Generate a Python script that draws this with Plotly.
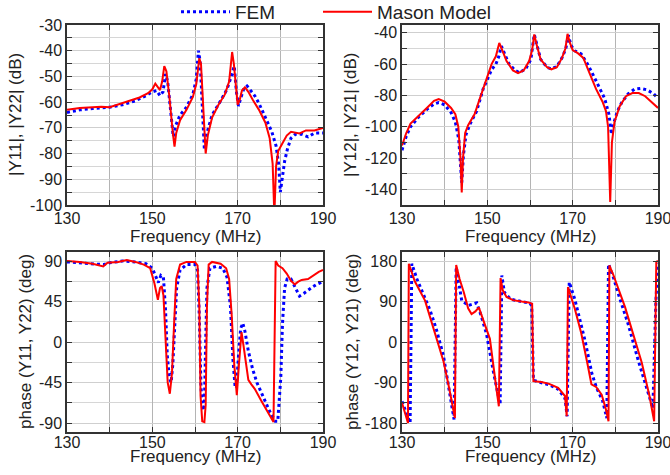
import plotly.graph_objects as go

# ---------------- data ----------------
# |Y11|,|Y22| (dB)
f_mag11_fem = [130, 133, 136, 140, 143, 146, 148.5, 150, 151, 151.8, 152.5, 153.1, 153.6, 154.2, 154.9, 155.5, 156.5, 158,
               159.5, 160.3, 160.8, 161.2, 161.7, 162.2, 162.8, 164, 166, 167.5, 168.5, 169.2, 169.7, 170.2, 170.8, 171.5,
               172.2, 173, 174, 175, 176, 177, 178, 179, 179.6, 180, 180.4, 181, 181.7, 182.5, 183.5, 185, 186.5, 188, 190]
mag11_fem = [-64, -63, -62.5, -62, -61, -59.5, -57.5, -56, -55.5, -57.5, -56, -49, -52, -62, -73.4, -69, -65, -62,
             -57, -51, -40, -44, -62, -78.6, -72, -65, -59.5, -55, -50, -46, -56, -61.5, -58, -54.5,
             -53.7, -55.5, -57.5, -60.5, -64, -67.5, -71.5, -77, -84, -95, -90, -83, -78, -74, -72.5, -72.5, -73.5, -72, -72]

f_mag11_mason = [130, 133, 136, 138, 140, 142, 145, 147, 149, 150, 150.7, 151.3, 151.8, 152.3, 152.8, 153.3, 154, 154.8,
                 155.2, 155.6, 156.5, 158, 159.5, 160.3, 160.7, 161.0, 161.4, 161.8, 162.3, 162.5, 163, 164, 165.5, 167,
                 168, 168.4, 168.7, 169.1, 169.6, 170.0, 170.5, 171, 171.7, 172.5, 173.5, 175, 176.5, 177.5, 178.2, 178.6,
                 179.0, 179.5, 180.5, 181.5, 182.5, 183.5, 184.5, 186, 188, 190]
mag11_mason = [-63, -62.3, -62, -61.8, -62, -61, -59.5, -58.2, -56.5, -55, -52.8, -54, -55.3, -52, -46, -48, -58, -72,
               -77.3, -72, -67, -63, -58, -53, -47, -43, -45, -60, -76, -80, -73, -66, -61, -57,
               -52, -46, -40.5, -45, -54, -61, -59, -55.5, -54.2, -56, -59, -63, -68, -74, -84, -104,
               -85, -79, -76, -73, -71.5, -71.8, -72.2, -71, -71, -70]

# |Y12|,|Y21| (dB)
f_mag12_fem = [130, 131, 132, 134, 136, 137.5, 138.6, 140, 141.5, 142.5, 143.3, 143.8, 144.0, 144.4, 145, 146, 147.5, 149,
               150, 151, 152, 152.7, 153.3, 154, 155, 156.5, 157.5, 159, 160.2, 161, 161.6, 162.5, 164, 165, 166.3,
               167.5, 168.4, 169, 169.6, 170.5, 172, 173.5, 175, 176.5, 177.5, 178.5, 179.1, 179.6, 180.5, 181.5, 183,
               184.5, 186, 187.5, 189, 190]
mag12_fem = [-115, -106, -100, -93.5, -88.5, -85.5, -84.5, -86, -91, -97, -108, -125, -135.7, -118, -105, -98, -90, -76,
             -70, -63.5, -60, -55, -48.5, -53, -59.5, -64, -65.5, -63, -57, -41, -47, -57, -62, -63, -61.5,
             -56, -50, -41.5, -48, -51.5, -53.5, -60, -68, -76, -82, -92, -104.9, -98, -90, -84.5, -79,
             -76, -75.5, -76.5, -79, -82]

f_mag12_mason = [130, 131, 132, 134, 136, 137.5, 138.6, 140, 141.5, 142.5, 143.2, 143.7, 144.0, 144.3, 144.8, 145.5, 147,
                 148.5, 150, 151, 152, 152.8, 153.5, 154.5, 156, 157.2, 158.5, 159.8, 160.5, 161.0, 161.5, 162.5, 164,
                 165, 166.3, 167.5, 168.3, 168.8, 169.3, 170, 171.2, 172.5, 174, 175.5, 177, 177.8, 178.3, 178.8, 179.2,
                 179.8, 181, 182.5, 184, 185.5, 187, 188.5, 190]
mag12_mason = [-112, -104, -98, -93, -87.5, -83.5, -82.3, -84, -88, -92, -100, -120, -142, -120, -104, -99, -92,
               -80, -68, -60, -55, -46.5, -51, -58, -64, -65.8, -64, -58, -51, -41, -47, -57, -62,
               -63.3, -62, -56, -50, -40.6, -46, -51, -53, -56, -66, -76, -84, -90, -100, -148, -110,
               -97, -87, -80.5, -78.5, -78.5, -80.5, -84, -88]

# phase(Y11,Y22) (deg)
f_ph11_fem = [130, 133, 136, 138.5, 140, 143, 146, 148.5, 150, 150.8, 151.4, 152, 152.6, 153.1, 153.5, 154, 154.4, 154.8,
              155.2, 155.7, 156.5, 158, 160, 160.6, 161.0, 161.4, 161.8, 162.2, 162.5, 162.8, 163.5, 165, 166.5, 167.5,
              168.3, 168.9, 169.4, 169.7, 170.2, 170.7, 171.2, 171.7, 172.5, 173.5, 174.5, 176, 177.5, 178.8, 179.4,
              180.1, 180.5, 181, 181.6, 182.5, 183.5, 184.5, 185.5, 186.5, 187.5, 188.5, 190]
ph11_fem = [89, 88, 87, 86, 88, 90, 89, 87, 82, 72, 66, 74, 72, 35, -15, -40, -45, -25,
            20, 60, 80, 86, 86, 80, 30, -50, -76, -70, 0, 60, 82, 84, 82, 72,
            40, -20, -50, -51, -15, 15, 21, 12, -10, -30, -45, -62, -77, -88, -88,
            -40, 20, 60, 70, 70, 60, 51, 54, 58, 61, 64, 67]

f_ph11_mason = [130, 133, 136, 138.5, 139.5, 142, 144, 146, 148, 149.5, 150.5, 151.3, 151.8, 152.2, 152.6, 153.1, 153.6,
                154.1, 154.6, 155.1, 155.6, 156.5, 158, 160, 160.6, 161.0, 161.3, 161.7, 162.2, 162.5, 162.8, 163.2,
                164, 166, 167.3, 168, 168.6, 169.2, 169.8, 170.3, 170.9, 171.4, 171.9, 172.5, 173.2, 174, 175.5, 177,
                178.4, 178.9, 179.5, 180.5, 181.5, 182.5, 183.4, 184.2, 185, 186.5, 187.5, 189, 190]
ph11_mason = [90, 89, 87, 84, 88, 89, 91, 89, 86, 82, 65, 47, 60, 62, 52, 10, -45,
              -57.5, -35, 20, 70, 86, 89, 89, 85, 40, -60, -88, -89, -70, 40, 86,
              89, 87, 82, 70, 30, -25, -59, -25, 11, -5, -25, -42, -47, -52, -65, -78,
              -89, 90, 85, 82, 76, 68, 64, 67, 69, 70, 73, 78, 80]

# phase(Y12,Y21) (deg)
f_ph12_fem = [130, 131, 131.9, 132.3, 133.5, 136.6, 138, 139.7, 141, 142.2, 142.7, 143.3, 144, 144.6, 145.5, 146.5,
              147.5, 148.5, 149.8, 151.5, 153, 153.4, 154, 155.5, 158, 160, 160.4, 160.8, 162.5, 164.5, 166.6, 168.2,
              168.7, 169.2, 170.5, 172.9, 174.5, 175.6, 177, 178, 178.4, 179.5, 180.7, 183, 185.4, 187.5, 188.8,
              189.5, 190]
ph12_fem = [-132, -160, -180, 174, 140, 70, 30, -30, -100, -172, 167, 130, 92, 88, 81, 84,
            87, 60, 18, -70, -139, 148, 110, 95, 90, 86, 80, -85, -90, -95, -105, -125,
            -165, 133, 95, 3, -70, -102, -130, -169, 173, 145, 107, 40, -42, -110, -147,
            90, 175]

f_ph12_mason = [130, 131.4, 131.6, 133, 135.4, 137.5, 139.7, 141, 142.4, 142.7, 143.5, 144.5, 145.5, 146.3, 147.2, 148,
                149, 150.6, 151.8, 152.7, 153.1, 153.6, 154.5, 156, 158, 159.6, 160.5, 160.8, 162.7, 164.5, 166.6, 168.2,
                168.6, 168.9, 170.5, 172, 173.5, 174.4, 175.5, 176.8, 177.8, 178.4, 178.6, 179.5, 182.3, 184, 186.2,
                188, 189.1, 189.6, 190]
ph12_mason = [-135, -180, 174, 135, 92, 25, -42, -100, -169, 171, 140, 110, 75, 62, 68, 77,
              50, 7, -80, -143, 142, 115, 100, 93, 90, 88, 85, -87, -89, -93, -102, -120,
              -165, 122, 74, 20, -50, -94, -100, -117, -150, -176, 170, 150, 77, 25, -46,
              -120, -176, 178, 180]

# tick labels
freq_ticks = [130, 150, 170, 190]
mag11_ticks = [-30, -40, -50, -60, -70, -80, -90, -100]
mag12_ticks = [-40, -60, -80, -100, -120, -140]
ph11_ticks = [90, 45, 0, -45, -90]
ph12_ticks = [180, 90, 0, -90, -180]

# ---------------- figure ----------------
W, H = 670, 475
FONT = "Liberation Sans, Arial, sans-serif"
fig = go.Figure()

fem_line = dict(color="#0000ff", width=3, dash="dot")
mason_line = dict(color="#ff0000", width=2)

panels = [
    ("x", "y", f_mag11_fem, mag11_fem, f_mag11_mason, mag11_mason),
    ("x2", "y2", f_mag12_fem, mag12_fem, f_mag12_mason, mag12_mason),
    ("x3", "y3", f_ph11_fem, ph11_fem, f_ph11_mason, ph11_mason),
    ("x4", "y4", f_ph12_fem, ph12_fem, f_ph12_mason, ph12_mason),
]
for i, (xa, ya, fx, fy, mx, my) in enumerate(panels):
    fig.add_trace(go.Scatter(x=fx, y=fy, mode="lines", line=fem_line, name="FEM",
                             showlegend=(i == 0), legend="legend", xaxis=xa, yaxis=ya))
for i, (xa, ya, fx, fy, mx, my) in enumerate(panels):
    fig.add_trace(go.Scatter(x=mx, y=my, mode="lines", line=mason_line, name="Mason Model",
                             showlegend=(i == 0), legend="legend2", xaxis=xa, yaxis=ya))

def pxx(p):
    return p / W

def pxy(p):
    return 1 - p / H

frame = dict(showline=True, linecolor="#333333", linewidth=1.5, mirror="ticks",
             ticks="inside", ticklen=5, tickcolor="#333333", tickwidth=1,
             zeroline=False, automargin=False, ticklabeloverflow="allow",
             tickfont=dict(family=FONT, size=16, color="#222222"))

def xaxis_cfg(dom, anchor, standoff):
    return dict(domain=dom, anchor=anchor, range=[130, 190], tickmode="array",
                tickvals=freq_ticks, ticktext=[str(v) for v in freq_ticks],
                showgrid=True, gridcolor="#b4b4b4", gridwidth=1, ticklabelstandoff=standoff,
                minor=dict(tickmode="linear", tick0=130, dtick=10, showgrid=True,
                           gridcolor="#b4b4b4", gridwidth=1, ticks="inside", ticklen=5,
                           tickcolor="#333333"),
                **frame)

def yaxis_cfg(dom, anchor, rng, ticks, minor_start, minor_step):
    return dict(domain=dom, anchor=anchor, range=rng, tickmode="array",
                tickvals=ticks, ticktext=[str(v) for v in ticks],
                showgrid=True, gridcolor="#cfcfcf", gridwidth=1,
                minor=dict(tickmode="linear", tick0=minor_start, dtick=minor_step, showgrid=True,
                           gridcolor="#d6d6d6", gridwidth=1, ticks="inside", ticklen=5,
                           tickcolor="#333333"),
                **frame)

xL, xR = [pxx(67), pxx(323)], [pxx(402), pxx(658)]
yT, yB = [pxy(205), pxy(25)], [pxy(432), pxy(252)]

legend_common = dict(orientation="h", xanchor="left", y=1 + 7 / H, yanchor="top",
                     font=dict(family=FONT, size=19, color="#222222"),
                     bgcolor="rgba(0,0,0,0)", itemwidth=49)

fig.update_layout(
    width=W, height=H,
    margin=dict(l=0, r=0, t=0, b=0, autoexpand=False),
    paper_bgcolor="white", plot_bgcolor="white",
    font=dict(family=FONT, size=16, color="#222222"),
    xaxis=xaxis_cfg(xL, "y", -2),
    yaxis=yaxis_cfg(yT, "x", [-100, -30], mag11_ticks, -100, 5),
    xaxis2=xaxis_cfg(xR, "y2", -2),
    yaxis2=yaxis_cfg(yT, "x2", [-150, -35], mag12_ticks, -140, 10),
    xaxis3=xaxis_cfg(xL, "y3", -5),
    yaxis3=yaxis_cfg(yB, "x3", [-100, 100], ph11_ticks, -90, 22.5),
    xaxis4=xaxis_cfg(xR, "y4", -5),
    yaxis4=yaxis_cfg(yB, "x4", [-200, 200], ph12_ticks, -180, 45),
    legend=dict(x=pxx(176), **legend_common),
    legend2=dict(x=pxx(318), **legend_common),
)

titles = [
    ("Frequency (MHz)", 195, 237, 0),
    ("Frequency (MHz)", 530, 237, 0),
    ("Frequency (MHz)", 195, 456, 0),
    ("Frequency (MHz)", 530, 456, 0),
    ("|Y11|, |Y22| (dB)", 16, 115, -90),
    ("|Y12|, |Y21| (dB)", 351, 115, -90),
    ("phase (Y11, Y22) (deg)", 25, 342, -90),
    ("phase (Y12, Y21) (deg)", 352, 342, -90),
]
for text, cx, cy, ang in titles:
    fig.add_annotation(text=text, x=pxx(cx), y=pxy(cy), xref="paper", yref="paper",
                       showarrow=False, textangle=ang, xanchor="center", yanchor="middle",
                       font=dict(family=FONT, size=17, color="#222222"))

fig.write_html("out.html", config={"displayModeBar": False},
               post_script="document.body.style.margin='0';")
